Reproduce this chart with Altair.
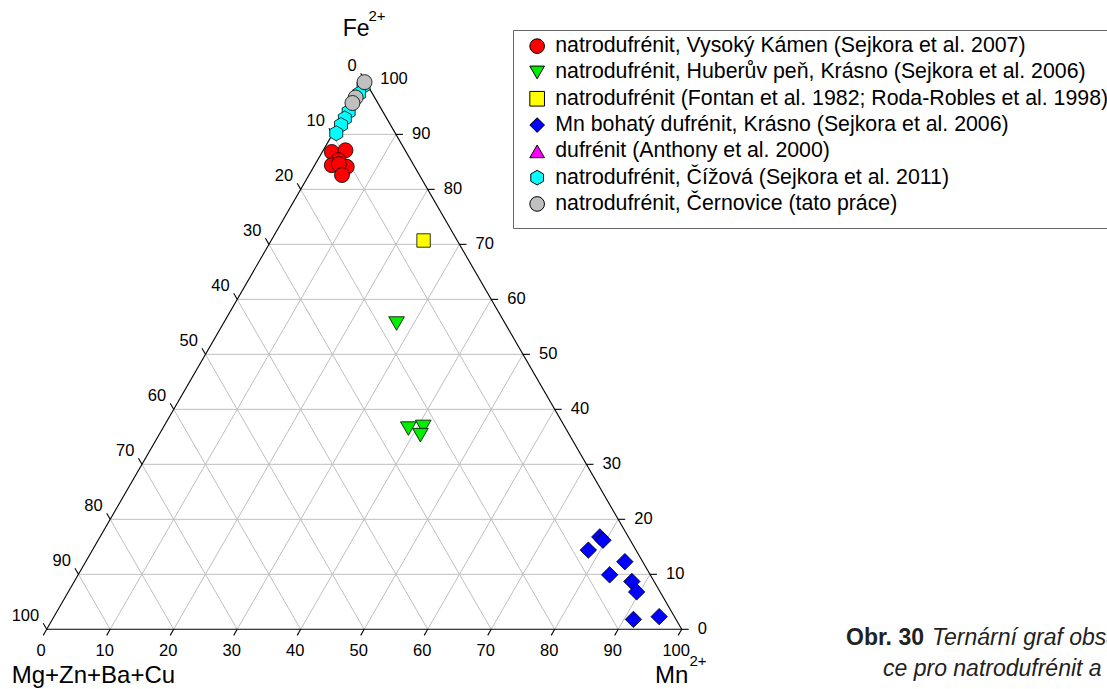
import math
import altair as alt
import pandas as pd

# ---------------------------------------------------------------------------
# Data: ternary compositions (Fe2+, Mn2+; Mg+Zn+Ba+Cu is the remainder to 100)
# ---------------------------------------------------------------------------
SERIES = [
    "natrodufrénit, Vysoký Kámen (Sejkora et al. 2007)",
    "natrodufrénit, Huberův peň, Krásno (Sejkora et al. 2006)",
    "natrodufrénit (Fontan et al. 1982; Roda-Robles et al. 1998)",
    "Mn bohatý dufrénit, Krásno (Sejkora et al. 2006)",
    "dufrénit (Anthony et al. 2000)",
    "natrodufrénit, Čížová (Sejkora et al. 2011)",
    "natrodufrénit, Černovice (tato práce)",
]

VYSOKY_KAMEN_FE = [86.8, 87.1, 85.3, 84.4, 84.1, 84.6, 82.6]
VYSOKY_KAMEN_MN = [1.5, 3.5, 3.3, 2.7, 5.2, 3.7, 5.2]

HUBERUV_PEN_FE = [55.6, 36.5, 36.8, 35.3]
HUBERUV_PEN_MN = [27.3, 38.7, 40.9, 41.2]

FONTAN_FE = [70.7]
FONTAN_MN = [24.0]

KRASNO_MN_FE = [16.8, 16.2, 14.4, 12.3, 9.9, 8.7, 6.8, 1.8, 2.3]
KRASNO_MN_MN = [78.7, 79.5, 78.1, 84.9, 83.7, 87.8, 89.5, 91.5, 95.3]

ANTHONY_FE = []
ANTHONY_MN = []

CIZOVA_FE = [98.8, 97.4, 94.1, 92.9, 91.7, 90.2]
CIZOVA_MN = [0.5, 0.5, 0.5, 0.5, 0.5, 0.5]

CERNOVICE_FE = [99.5, 96.7, 95.7]
CERNOVICE_MN = [0.3, 0.3, 0.3]

TICKS = [0, 10, 20, 30, 40, 50, 60, 70, 80, 90, 100]

APEX_FE = "Fe"
APEX_MN = "Mn"
APEX_MG = "Mg+Zn+Ba+Cu"
CHARGE = "2+"
CAPTION_BOLD = "Obr. 30"
CAPTION_LINE1 = "Ternární graf obsazení pozi-"
CAPTION_LINE2 = "ce pro natrodufrénit a dufrénit"

# ---------------------------------------------------------------------------
# Styling
# ---------------------------------------------------------------------------
HEXAGON = "M0,-1L0.866,-0.5L0.866,0.5L0,1L-0.866,0.5L-0.866,-0.5Z"
SHAPES = ["circle", "triangle-down", "square", "diamond", "triangle-up", HEXAGON, "circle"]
FILLS = ["#ff0000", "#00ee00", "#ffff00", "#0000ff", "#ff00ff", "#00ffff", "#c0c0c0"]
OUTLINES = ["black"] * len(SERIES)
SIZES = [225, 245, 180, 270, 200, 225, 225]
FONT = "Liberation Sans"

W, H = 1107, 689
PX_LEFT, PX_BASE, PX_UNIT = 46.7, 629.3, 6.35   # triangle placement on the canvas
K = math.sqrt(3) / 2
TICK_LEN = 7 / PX_UNIT


def to_xy(fe, mn):
    """Ternary (Fe, Mn) -> cartesian with the Mn apex at the right."""
    return mn + fe / 2.0, fe * K


x_scale = alt.Scale(domain=[-PX_LEFT / PX_UNIT, (W - PX_LEFT) / PX_UNIT], nice=False, zero=False)
y_scale = alt.Scale(domain=[-(H - PX_BASE) / PX_UNIT, PX_BASE / PX_UNIT], nice=False, zero=False)


def xenc(field="x"):
    return alt.X(f"{field}:Q", scale=x_scale, axis=None)


def yenc(field="y"):
    return alt.Y(f"{field}:Q", scale=y_scale, axis=None)


# points
rows = []
for name, fes, mns in zip(
    SERIES,
    [VYSOKY_KAMEN_FE, HUBERUV_PEN_FE, FONTAN_FE, KRASNO_MN_FE, ANTHONY_FE, CIZOVA_FE, CERNOVICE_FE],
    [VYSOKY_KAMEN_MN, HUBERUV_PEN_MN, FONTAN_MN, KRASNO_MN_MN, ANTHONY_MN, CIZOVA_MN, CERNOVICE_MN],
):
    for fe, mn in zip(fes, mns):
        rows.append({"series": name, "Fe": fe, "Mn": mn, "Mg": round(100 - fe - mn, 1)})
points_df = pd.DataFrame(rows, columns=["series", "Fe", "Mn", "Mg"])

# grid lines (constant Fe, Mn and Mg)
grid_rows = []
for v in TICKS[1:-1]:
    for (f1, m1), (f2, m2) in [
        ((v, 0), (v, 100 - v)),          # Fe = v
        ((0, v), (100 - v, v)),          # Mn = v
        ((100 - v, 0), (0, 100 - v)),    # Mg = v
    ]:
        x1, y1 = to_xy(f1, m1)
        x2, y2 = to_xy(f2, m2)
        grid_rows.append({"x": x1, "y": y1, "x2": x2, "y2": y2})
grid_df = pd.DataFrame(grid_rows)

# triangle outline
corners = [to_xy(0, 0), to_xy(0, 100), to_xy(100, 0)]
edge_df = pd.DataFrame([
    {"x": corners[i][0], "y": corners[i][1], "x2": corners[(i + 1) % 3][0], "y2": corners[(i + 1) % 3][1]}
    for i in range(3)
])

# axis ticks and labels
bottom_rows, right_rows, left_rows = [], [], []
for v in TICKS:
    bx, by = to_xy(0, v)                 # Mn axis along the base
    bottom_rows.append({"x": bx, "y": by, "x2": bx - 0.5 * TICK_LEN, "y2": by - K * TICK_LEN, "label": str(v)})
    rx, ry = to_xy(v, 100 - v)           # Fe axis on the right edge
    right_rows.append({"x": rx, "y": ry, "x2": rx + TICK_LEN, "y2": ry, "label": str(v)})
    lx, ly = to_xy(100 - v, 0)           # Mg+Zn+Ba+Cu axis on the left edge
    left_rows.append({"x": lx, "y": ly, "x2": lx - 0.5 * TICK_LEN, "y2": ly + K * TICK_LEN, "label": str(v)})
bottom_df = pd.DataFrame(bottom_rows)
right_df = pd.DataFrame(right_rows)
left_df = pd.DataFrame(left_rows)


def rules(df, color, width):
    return alt.Chart(df).mark_rule(color=color, strokeWidth=width).encode(
        x=xenc(), y=yenc(), x2="x2:Q", y2="y2:Q"
    )


def tick_labels(df, align, dx, dy):
    return alt.Chart(df).mark_text(
        font=FONT, fontSize=16.5, color="black", align=align, baseline="middle", dx=dx, dy=dy
    ).encode(x=xenc(), y=yenc(), text="label:N")


def note(text, x, y, size, weight="normal", style="normal", color="black"):
    return alt.Chart(pd.DataFrame({"t": [text]})).mark_text(
        font=FONT, fontSize=size, fontWeight=weight, fontStyle=style, color=color,
        align="left", baseline="alphabetic",
    ).encode(x=alt.value(x), y=alt.value(y), text="t:N")


legend = alt.Legend(
    title="\u00a0", titleOrient="bottom", titleFontSize=5, titlePadding=3,
    orient="none", legendX=513, legendY=30,
    strokeColor="#666666", fillColor="white", padding=5.5,
    symbolOffset=8, labelOffset=7.4, rowPadding=4.3,
    labelFont=FONT, labelFontSize=21.3, labelColor="black", labelLimit=1000,
    symbolSize=215, symbolStrokeWidth=1, symbolOpacity=1,
)

shape_enc = alt.Shape("series:N", scale=alt.Scale(domain=SERIES, range=SHAPES), legend=legend)
fill_enc = alt.Fill("series:N", scale=alt.Scale(domain=SERIES, range=FILLS), legend=legend)
stroke_enc = alt.Stroke("series:N", scale=alt.Scale(domain=SERIES, range=OUTLINES), legend=legend)

# one layer per series so each marker keeps its own size; later series sit on top
point_layers = []
for name, size in zip(SERIES, SIZES):
    point_layers.append(
        alt.Chart(points_df).mark_point(
            filled=True, strokeWidth=0.8, opacity=1, size=size
        ).encode(
            x=alt.X("x:Q", scale=x_scale, axis=None),
            y=alt.Y("y:Q", scale=y_scale, axis=None),
            shape=shape_enc,
            fill=fill_enc,
            stroke=stroke_enc,
        ).transform_filter(
            alt.datum.series == name
        ).transform_calculate(
            x="datum.Mn + datum.Fe / 2",
            y=f"datum.Fe * {K}",
        )
    )

chart = alt.layer(
    rules(grid_df, "#bfbfbf", 1),
    rules(edge_df, "black", 1.1),
    rules(bottom_df, "black", 1.1),
    rules(right_df, "black", 1.1),
    rules(left_df, "black", 1.1),
    tick_labels(bottom_df, "center", -5.5, 21.7),
    tick_labels(right_df, "left", 16, 0),
    tick_labels(left_df, "right", -7.5, -13.6),
    *point_layers,
    note(APEX_FE, 342.7, 36, 23),
    note(CHARGE, 368.5, 21, 15),
    note(APEX_MG, 11.7, 683, 24),
    note(APEX_MN, 655, 683, 24),
    note(CHARGE, 689.5, 666, 15),
    note(CAPTION_BOLD, 846, 645, 23, weight="bold", color="#222222"),
    note(CAPTION_LINE1, 932, 645, 23, style="italic", color="#222222"),
    note(CAPTION_LINE2, 883, 676, 23, style="italic", color="#222222"),
).properties(
    width=W, height=H, padding=0, autosize=alt.AutoSizeParams(type="none")
).configure_view(stroke=None)

chart.save("out.html", embed_options={"renderer": "svg", "actions": False})
